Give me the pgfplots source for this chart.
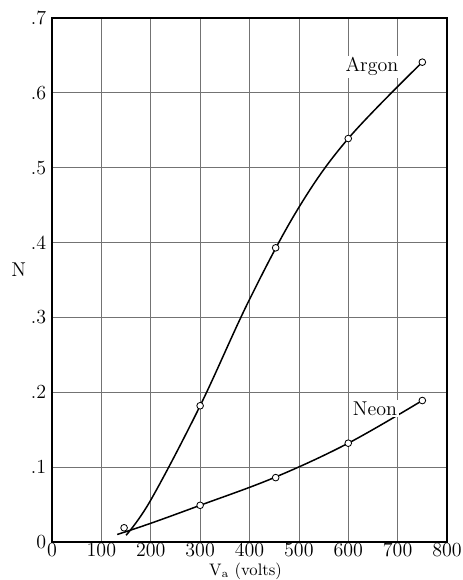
\documentclass[border=0pt]{standalone}
\usepackage{pgfplots}
\pgfplotsset{compat=1.18}
\begin{document}
\begin{tikzpicture}[x=0.6pt,y=0.6pt]
\useasboundingbox (-52,-38) rectangle (411,542);
\begin{axis}[
  scale only axis,
  width=237pt, height=314.4pt,
  xmin=0, xmax=800, ymin=0, ymax=0.7,
  xtick={0,100,...,800},
  ytick={0,0.1,0.2,0.3,0.4,0.5,0.6,0.7},
  yticklabels={0,.1,.2,.3,.4,.5,.6,.7},
  xticklabels={0,100,200,300,400,500,600,700,800},
  major tick length=0pt,
  grid=major,
  grid style={black!55, line width=0.45pt},
  axis line style={line width=1pt},
  tick label style={font=\large},
  xticklabel style={yshift=0.5pt, inner ysep=1pt},
  yticklabel style={xshift=0pt},
  xlabel={V$_{\mathrm{a}}$ (volts)},
  xlabel style={font=\normalsize, inner sep=0pt, at={(axis description cs:0.49,0)}, anchor=center, yshift=-17.4pt},
  ylabel={N},
  ylabel style={font=\large, rotate=-90, at={(axis description cs:0,0.52)}, anchor=center, xshift=-20pt},
  clip=false,
]
% Argon curve
\addplot[black, line width=0.9pt, smooth, tension=0.6] coordinates {
  (150,0.009) (200,0.056) (300,0.182) (400,0.324) (500,0.447) (600,0.539) (750,0.641)
};
% Neon curve
\addplot[black, line width=0.9pt, smooth, tension=0.6] coordinates {
  (132,0.010) (200,0.025) (300,0.049) (450,0.086) (600,0.132) (750,0.189)
};
% Argon points
\addplot[only marks, mark=*, mark size=2pt, mark options={fill=white, draw=black, line width=0.5pt}] coordinates {
  (146,0.019) (300,0.182) (453,0.393) (600,0.539) (750,0.641)
};
% Neon points
\addplot[only marks, mark=*, mark size=2pt, mark options={fill=white, draw=black, line width=0.5pt}] coordinates {
  (300,0.049) (453,0.086) (600,0.132) (750,0.189)
};
\node[fill=white, inner sep=1pt, font=\large] at (axis cs:648,0.635) {Argon};
\node[fill=white, inner sep=1pt, font=\large] at (axis cs:654,0.178) {Neon};
\end{axis}
\end{tikzpicture}
\end{document}
